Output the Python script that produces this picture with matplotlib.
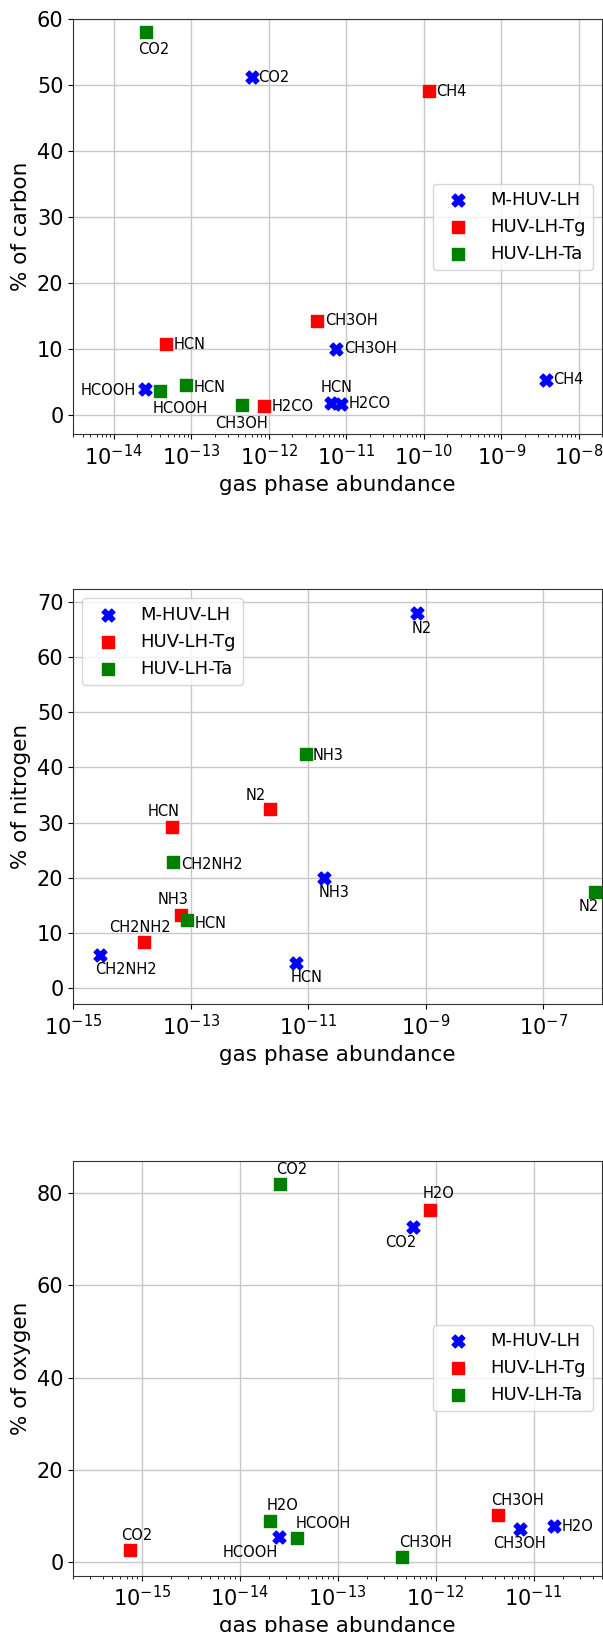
import matplotlib
matplotlib.use("Agg")
import matplotlib.pyplot as plt

# ---- carbon ----
c_m_names = ['HCOOH', 'CO2', 'CH3OH', 'HCN', 'H2CO', 'CH4']
c_m_x = [2.56e-14, 6.0e-13, 7.4e-12, 6.3e-12, 8.55e-12, 3.8e-9]
c_m_y = [3.8, 51.2, 10.0, 1.7, 1.6, 5.3]
c_tg_names = ['CH4', 'CH3OH', 'HCN', 'H2CO']
c_tg_x = [1.16e-10, 4.26e-12, 4.74e-14, 8.77e-13]
c_tg_y = [49.1, 14.2, 10.7, 1.3]
c_ta_names = ['CO2', 'HCOOH', 'HCN', 'CH3OH']
c_ta_x = [2.62e-14, 3.94e-14, 8.6e-14, 4.52e-13]
c_ta_y = [58.1, 3.6, 4.5, 1.5]

# ---- nitrogen ----
n_m_names = ['N2', 'NH3', 'HCN', 'CH2NH2']
n_m_x = [7.2e-10, 1.88e-11, 6.2e-12, 2.9e-15]
n_m_y = [67.9, 20.0, 4.6, 6.1]
n_tg_names = ['N2', 'HCN', 'NH3', 'CH2NH2']
n_tg_x = [2.24e-12, 4.84e-14, 6.85e-14, 1.61e-14]
n_tg_y = [32.5, 29.3, 13.3, 8.3]
n_ta_names = ['NH3', 'CH2NH2', 'HCN', 'N2']
n_ta_x = [9.0e-12, 5.07e-14, 8.73e-14, 7.67e-7]
n_ta_y = [42.5, 22.8, 12.3, 17.4]

# ---- oxygen ----
o_m_names = ['CO2', 'HCOOH', 'CH3OH', 'H2O']
o_m_x = [5.93e-13, 2.51e-14, 7.28e-12, 1.6e-11]
o_m_y = [72.6, 5.4, 7.2, 7.7]
o_tg_names = ['H2O', 'CH3OH', 'CO2']
o_tg_x = [8.84e-13, 4.3e-12, 7.62e-16]
o_tg_y = [76.4, 10.1, 2.5]
o_ta_names = ['CO2', 'H2O', 'HCOOH', 'CH3OH']
o_ta_x = [2.61e-14, 2.04e-14, 3.88e-14, 4.52e-13]
o_ta_y = [82.0, 8.9, 5.1, 1.1]

series_labels = ['M-HUV-LH', 'HUV-LH-Tg', 'HUV-LH-Ta']

# label offsets (pixels, text centre relative to marker; +dy = down)
c_m_off = [(-37.6, 1.5), (22.7, 0), (34.3, 0), (6.2, -15.7), (29.1, 0), (22.4, 0)]
c_tg_off = [(22.4, 0), (34.1, 0), (23.3, 0), (28.3, 0.5)]
c_ta_off = [(7.3, 17.5), (20.4, 17.3), (23.3, 2.7), (-0.2, 19)]
n_m_off = [(4.6, 15), (10, 15), (11, 14.7), (25.6, 14.7)]
n_tg_off = [(-13.9, -13.7), (-8.9, -15), (-8.5, -15), (-4.6, -15)]
n_ta_off = [(22.9, 1.7), (38.3, 2), (23.3, 2.7), (-6.2, 14.3)]
o_m_off = [(-12.3, 14.7), (-28.9, 15.7), (-1, 15.3), (23.7, 0)]
o_tg_off = [(8.3, -16), (19.5, -15), (7.1, -15)]
o_ta_off = [(11.4, -14.7), (12.5, -15), (25.6, -14.7), (23.7, -14)]


def draw_panel(ax, sets, ylabel, xlim, ylim, legend_loc):
    colors = ['blue', 'red', 'green']
    markers = ['X', 's', 's']
    for (names, xs, ys, offs), col, mk, lab in zip(sets, colors, markers, series_labels):
        ax.scatter(xs, ys, c=col, marker=mk, s=85, label=lab, zorder=3)
        for name, x, y, (dx, dy) in zip(names, xs, ys, offs):
            ax.annotate(name, (x, y), xytext=(dx * 0.72, -dy * 0.72),
                        textcoords='offset points', ha='center', va='center',
                        fontsize=10.5, zorder=4)
    ax.set_xscale('log')
    ax.set_xlim(*xlim)
    ax.set_ylim(*ylim)
    ax.grid(True, color='#c8c8c8', linewidth=1.0)
    ax.set_axisbelow(True)
    ax.set_xlabel('gas phase abundance', fontsize=15.5)
    ax.set_ylabel(ylabel, fontsize=15.5)
    ax.tick_params(axis='both', which='major', labelsize=15)
    ax.legend(loc=legend_loc, fontsize=13, borderpad=0.4)
    for sp in ax.spines.values():
        sp.set_color('#333333')


fig = plt.figure(figsize=(6.03, 16.32), dpi=100)
ax1 = fig.add_axes([0.1214, 0.7339, 0.877, 0.2543])
ax2 = fig.add_axes([0.1214, 0.3846, 0.877, 0.2543])
ax3 = fig.add_axes([0.1214, 0.0345, 0.877, 0.2543])

draw_panel(ax1,
           [(c_m_names, c_m_x, c_m_y, c_m_off),
            (c_tg_names, c_tg_x, c_tg_y, c_tg_off),
            (c_ta_names, c_ta_x, c_ta_y, c_ta_off)],
           '% of carbon', (3.0e-15, 2.0e-8), (-3.0, 60), 'center right')
draw_panel(ax2,
           [(n_m_names, n_m_x, n_m_y, n_m_off),
            (n_tg_names, n_tg_x, n_tg_y, n_tg_off),
            (n_ta_names, n_ta_x, n_ta_y, n_ta_off)],
           '% of nitrogen', (1e-15, 1e-6), (-2.9, 72.25), 'upper left')
draw_panel(ax3,
           [(o_m_names, o_m_x, o_m_y, o_m_off),
            (o_tg_names, o_tg_x, o_tg_y, o_tg_off),
            (o_ta_names, o_ta_x, o_ta_y, o_ta_off)],
           '% of oxygen', (2.0e-16, 5.0e-11), (-3.04, 87.1), 'center right')

fig.savefig('out.png', dpi=100)
